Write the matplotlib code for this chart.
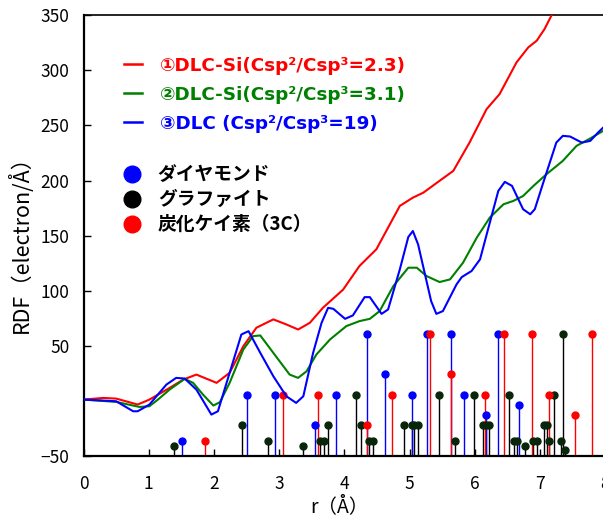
import matplotlib
matplotlib.use("Agg")
import matplotlib.pyplot as plt
from matplotlib.lines import Line2D
from matplotlib.font_manager import FontProperties

plt.rcParams['font.family'] = ['Noto Sans CJK JP', 'DejaVu Sans']

# ---- RDF curves ----
r_red = [0, 0.30, 0.50, 0.83, 1.01, 1.32, 1.53, 1.73, 2.04, 2.24, 2.45, 2.65, 2.91, 3.11, 3.29, 3.47,
         3.67, 3.98, 4.23, 4.49, 4.85, 5.05, 5.21, 5.46, 5.67, 5.92, 6.18, 6.38, 6.64, 6.82, 6.95,
         7.07, 7.20, 7.35]
v_red = [1.2, 2.7, 2.1, -3.3, 1.2, 11.8, 19.4, 23.9, 16.4, 25.5, 49.7, 66.4, 74, 69.4, 64.8, 70.9,
         84.5, 101, 122.4, 137.6, 177, 184.5, 189, 199.8, 208.8, 234.6, 264.8, 278.5, 307.3, 320.9, 327,
         337.6, 352.7, 380]

r_green = [0, 0.50, 0.86, 1.01, 1.14, 1.32, 1.55, 1.68, 1.83, 1.99, 2.09, 2.24, 2.45, 2.60, 2.71,
           2.91, 3.16, 3.29, 3.42, 3.57, 3.78, 4.03, 4.23, 4.39, 4.54, 4.75, 4.98, 5.11, 5.26, 5.46,
           5.62, 5.82, 6.03, 6.23, 6.44, 6.59, 6.74, 6.90, 7.10, 7.35, 7.56, 7.77, 7.97, 8.0]
v_green = [1.2, -0.9, -5.5, -4.8, 1.2, 10.3, 20, 16.4, 5.8, -4.2, -1.2, 16.4, 46.7, 58.8, 59.4,
           43.6, 23.9, 20.9, 26.9, 42.1, 55.8, 67.9, 72.4, 74.5, 81.5, 104.2, 120.9, 120.9, 113.3, 107.9,
           110.3, 125.5, 148.2, 166.4, 178.5, 181.5, 186, 195.2, 205.8, 217.9, 231.5, 238.2, 245.2, 246]

r_blue = [0, 0.50, 0.76, 0.83, 1.01, 1.27, 1.42, 1.55, 1.73, 1.96, 2.06, 2.24, 2.42, 2.53, 2.71,
          2.91, 3.11, 3.26, 3.37, 3.52, 3.65, 3.75, 3.83, 4.01, 4.13, 4.31, 4.39, 4.57, 4.67, 4.85,
          4.98, 5.05, 5.13, 5.33, 5.41, 5.51, 5.72, 5.80, 5.95, 6.08, 6.23, 6.36, 6.46, 6.57, 6.74,
          6.85, 6.92, 7.05, 7.25, 7.35, 7.46, 7.64, 7.77, 7.89, 7.97, 8.0]
v_blue = [1.2, -0.3, -9.4, -9.4, -3.3, 14.8, 20.9, 20.3, 10.3, -12.4, -9.4, 25.5, 60.3, 63.3, 43.6,
          22.4, 4.2, -1.8, 4.2, 43.6, 70.9, 84.5, 83.6, 74.5, 77.6, 94.2, 94.2, 79, 83, 119.4,
          148.8, 154.2, 142.1, 90.6, 79, 81.5, 105.8, 112.4, 117.9, 128.5, 161.8, 190.6, 198.8, 195.2, 174,
          169.4, 174, 198.2, 234.5, 240.6, 240, 234.5, 236, 243.6, 248.2, 249]

# ---- reference peak positions (stems) ----
diamond_r = [1.51, 2.50, 2.93, 3.55, 3.87, 4.35, 4.62, 5.03, 5.26, 5.63, 5.83, 6.17, 6.36, 6.67]
diamond_v = [-36, 5.7, 5.7, -21.5, 5.7, 61, 24.5, 5.7, 61, 61, 5.7, -12.5, 61, -3.5]

graphite_r = [1.39, 2.43, 2.83, 3.37, 3.62, 3.69, 3.75, 4.18, 4.25, 4.38, 4.44, 4.92, 5.03, 5.07,
              5.13, 5.45, 5.69, 5.98, 6.13, 6.17, 6.22, 6.53, 6.60, 6.65, 6.77, 6.89, 6.96, 7.06,
              7.10, 7.13, 7.22, 7.32, 7.35, 7.39]
graphite_v = [-40.6, -21.5, -36, -40.6, -36, -36, -21.5, 5.7, -21.5, -36, -36, -21.5, -21.5, -21.5,
              -21.5, 5.7, -36, 5.7, -21.5, -21.5, -21.5, 5.7, -36, -36, -40.6, -36, -36, -21.5,
              -21.5, -36, 5.7, -36, 61, -44.8]

sic_r = [1.86, 3.06, 3.60, 4.35, 4.73, 5.32, 5.64, 6.15, 6.44, 6.88, 7.14, 7.54, 7.79]
sic_v = [-36, 5.7, 5.7, -21.5, 5.7, 61, 24.5, 5.7, 61, 61, 5.7, -12.5, 61]

curve_labels = ['①DLC-Si(Csp²/Csp³=2.3)', '②DLC-Si(Csp²/Csp³=3.1)', '③DLC (Csp²/Csp³=19)']
phase_labels = ['ダイヤモンド', 'グラファイト', '炭化ケイ素（3C）']

yticks = [-50, 50, 100, 150, 200, 250, 300, 350]
xticks = [0, 1, 2, 3, 4, 5, 6, 7, 8]

fig = plt.figure(figsize=(6.03, 5.19), dpi=100)
ax = fig.add_axes([0.1386, 0.1214, 0.8651, 0.8491])

base = -50
ax.vlines(graphite_r, base, graphite_v, colors='black', lw=1.0, zorder=2)
ax.vlines(diamond_r, base, diamond_v, colors='#0000ff', lw=1.0, zorder=2)
ax.vlines(sic_r, base, sic_v, colors='#ff0000', lw=1.0, zorder=2)
ax.plot(graphite_r, graphite_v, 'o', color='#0a260a', ms=5, zorder=3)
ax.plot(diamond_r, diamond_v, 'o', color='#0000ff', ms=5, zorder=3)
ax.plot(sic_r, sic_v, 'o', color='#ff0000', ms=5, zorder=3)

ax.plot(r_red, v_red, color='#ff0000', lw=1.5, zorder=4)
ax.plot(r_green, v_green, color='#008000', lw=1.5, zorder=4)
ax.plot(r_blue, v_blue, color='#0000ff', lw=1.5, zorder=4)

ax.set_xlim(0, 8)
ax.set_ylim(-50, 350)
ax.set_xticks(xticks)
ax.set_yticks(yticks)
ax.tick_params(direction='in', length=5, width=1, labelsize=12.5)
ax.tick_params(axis='y', pad=10)
ax.tick_params(axis='x', pad=14)
ax.spines['left'].set_linewidth(1.6)
ax.spines['bottom'].set_linewidth(1.6)
ax.spines['top'].set_linewidth(1.2)
ax.spines['right'].set_visible(False)

ax.set_xlabel('r（Å）', fontsize=14)
ax.xaxis.set_label_coords(0.49, -0.092)
ax.set_ylabel('RDF（electron/Å）', fontsize=15.5)
ax.yaxis.set_label_coords(-0.098, 0.492)

lfont = FontProperties(family=['DejaVu Sans', 'Noto Sans CJK JP'], weight='bold', size=13.2)
h1 = [Line2D([], [], color=c, lw=1.8) for c in ['#ff0000', '#008000', '#0000ff']]
leg1 = ax.legend(h1, curve_labels, loc='upper left', bbox_to_anchor=(0.0775, 0.906),
                 frameon=False, prop=lfont, labelcolor='linecolor', handlelength=1.0,
                 handletextpad=0.95, labelspacing=0.6, borderpad=0, borderaxespad=0)
ax.add_artist(leg1)

pfont = FontProperties(family=['Noto Sans CJK JP', 'DejaVu Sans'], weight='bold', size=13.5)
h2 = [Line2D([], [], ls='none', marker='o', ms=12, color=c) for c in ['#0000ff', '#000000', '#ff0000']]
ax.legend(h2, phase_labels, loc='upper left', bbox_to_anchor=(0.074, 0.66),
          frameon=False, prop=pfont, handlelength=1.05, handletextpad=0.85,
          labelspacing=0.32, borderpad=0, borderaxespad=0)

fig.savefig('out.png', dpi=100)
